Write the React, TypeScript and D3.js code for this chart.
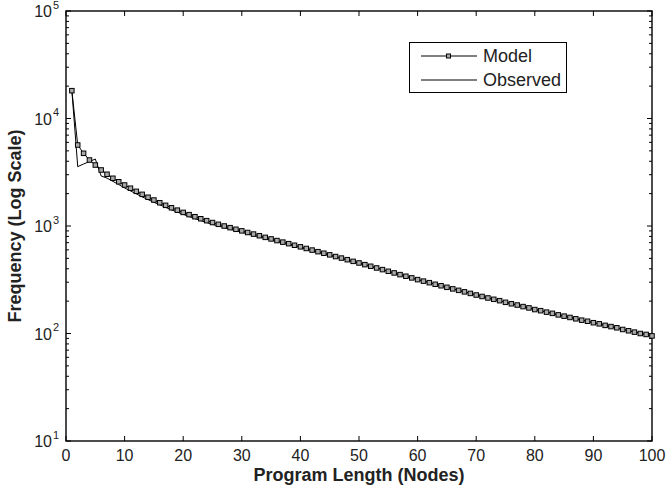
import React, { useEffect, useRef } from "react";
import * as d3 from "d3";

const programLength = d3.range(1, 101);

const modelFreq = [
  18150, 5670, 4745, 4110, 3690, 3320, 3030, 2780, 2580, 2407,
  2246, 2101, 1970, 1851, 1744, 1646, 1557, 1477, 1404, 1338,
  1276, 1220, 1168, 1121, 1077, 1037, 1000, 965, 932, 901,
  870, 841, 812, 784, 758, 732, 708, 685, 662, 640,
  618, 597, 577, 558, 539, 520, 503, 486, 469, 453,
  437, 422, 407, 393, 379, 366, 353, 341, 329, 317,
  307, 297, 287, 278, 269, 260, 252, 244, 236, 228,
  221, 214, 208, 202, 195, 189, 184, 178, 173, 167,
  163, 158, 154, 149, 145, 141, 137, 133, 130, 126,
  123, 119, 116, 113, 109, 106, 103, 100, 98, 95,
];

const observedFreq = [
  18150, 3565, 3775, 3970, 4200, 2920, 2790, 2600, 2430, 2260,
  2120, 1990, 1865, 1760, 1660, 1575, 1490, 1415, 1345, 1285,
  1225, 1172, 1122, 1078, 1036, 1000, 966, 933, 904, 874,
  846, 817, 791, 765, 741, 716, 694, 671, 651, 629,
  610, 590, 569, 551, 533, 514, 498, 481, 465, 449,
  434, 420, 405, 392, 378, 365, 352, 341, 328, 318,
  307, 297, 288, 278, 270, 260, 252, 244, 236, 228,
  222, 214, 208, 201, 196, 189, 184, 178, 173, 167,
  163, 158, 154, 149, 146, 141, 138, 133, 130, 126,
  123, 119, 116, 112, 110, 106, 104, 100, 98, 95,
];

const xTicks = [0, 10, 20, 30, 40, 50, 60, 70, 80, 90, 100];
const yDecades = [10, 100, 1000, 10000, 100000];
const seriesNames = ["Model", "Observed"];

const W = 668;
const H = 489;
const FONT = "'Liberation Sans', Arial, Helvetica, sans-serif";

export default function App() {
  const svgRef = useRef<SVGSVGElement>(null);

  useEffect(() => {
    const svg = d3.select(svgRef.current);
    svg.selectAll("*").remove();

    const left = 66, right = 652, top = 11, bottom = 441;
    const x = d3.scaleLinear().domain([0, 100]).range([left, right]);
    const y = d3.scaleLog().domain([10, 100000]).range([bottom, top]);

    svg.append("rect").attr("width", W).attr("height", H).attr("fill", "#fff");

    // box
    svg
      .append("rect")
      .attr("x", left)
      .attr("y", top)
      .attr("width", right - left)
      .attr("height", bottom - top)
      .attr("fill", "none")
      .attr("stroke", "#000")
      .attr("stroke-width", 1.4);

    // x ticks, bottom and top, pointing inward
    const g = svg.append("g").attr("stroke", "#000").attr("stroke-width", 1);
    xTicks.forEach((t) => {
      g.append("line").attr("x1", x(t)).attr("x2", x(t)).attr("y1", bottom).attr("y2", bottom - 5);
      g.append("line").attr("x1", x(t)).attr("x2", x(t)).attr("y1", top).attr("y2", top + 5);
    });

    // y ticks (log minor + major) on both sides
    y.ticks().forEach((t) => {
      const major = yDecades.includes(t);
      const len = major ? 5 : 3;
      g.append("line").attr("x1", left).attr("x2", left + len).attr("y1", y(t)).attr("y2", y(t));
      g.append("line").attr("x1", right).attr("x2", right - len).attr("y1", y(t)).attr("y2", y(t));
    });

    // tick labels
    svg
      .append("g")
      .selectAll("text")
      .data(xTicks)
      .join("text")
      .attr("x", (d) => x(d))
      .attr("y", bottom + 20)
      .attr("text-anchor", "middle")
      .attr("font-family", FONT)
      .attr("font-size", 16)
      .attr("fill", "#222")
      .text((d) => d);

    const yl = svg.append("g").attr("font-family", FONT).attr("fill", "#222");
    yDecades.forEach((d) => {
      const exp = Math.round(Math.log10(d));
      yl.append("text")
        .attr("x", left - 14)
        .attr("y", y(d) + 6)
        .attr("text-anchor", "end")
        .attr("font-size", 16)
        .text("10");
      yl.append("text")
        .attr("x", left - 13)
        .attr("y", y(d) - 2.5)
        .attr("font-size", 11)
        .text(exp);
    });

    // axis titles
    svg
      .append("text")
      .attr("x", (left + right) / 2)
      .attr("y", bottom + 40)
      .attr("text-anchor", "middle")
      .attr("font-family", FONT)
      .attr("font-weight", "bold")
      .attr("font-size", 18)
      .attr("fill", "#222")
      .text("Program Length (Nodes)");

    svg
      .append("text")
      .attr("transform", `translate(21,${(top + bottom) / 2}) rotate(-90)`)
      .attr("text-anchor", "middle")
      .attr("font-family", FONT)
      .attr("font-weight", "bold")
      .attr("font-size", 18)
      .attr("fill", "#222")
      .text("Frequency (Log Scale)");

    const line = d3
      .line<number>()
      .x((_, i) => x(programLength[i]))
      .y((v) => y(v));

    // observed
    svg
      .append("path")
      .datum(observedFreq)
      .attr("d", line)
      .attr("fill", "none")
      .attr("stroke", "#000")
      .attr("stroke-width", 1);

    // model with square markers
    svg
      .append("path")
      .datum(modelFreq)
      .attr("d", line)
      .attr("fill", "none")
      .attr("stroke", "#000")
      .attr("stroke-width", 1);

    svg
      .append("g")
      .selectAll("rect")
      .data(modelFreq)
      .join("rect")
      .attr("x", (_, i) => x(programLength[i]) - 2.25)
      .attr("y", (v) => y(v) - 2.25)
      .attr("width", 4.5)
      .attr("height", 4.5)
      .attr("fill", "#aaa")
      .attr("stroke", "#000")
      .attr("stroke-width", 1);

    // legend
    const lg = svg.append("g");
    lg.append("rect")
      .attr("x", 409.5)
      .attr("y", 42.5)
      .attr("width", 157)
      .attr("height", 50)
      .attr("fill", "#fff")
      .attr("stroke", "#000")
      .attr("stroke-width", 1);
    seriesNames.forEach((name, i) => {
      const ly = 56 + i * 24;
      lg.append("line")
        .attr("x1", 421)
        .attr("x2", 477)
        .attr("y1", ly)
        .attr("y2", ly)
        .attr("stroke", "#000")
        .attr("stroke-width", 1);
      if (i === 0) {
        lg.append("rect")
          .attr("x", 446.5)
          .attr("y", ly - 2)
          .attr("width", 4)
          .attr("height", 4)
          .attr("fill", "#aaa")
          .attr("stroke", "#000");
      }
      lg.append("text")
        .attr("x", 483)
        .attr("y", ly + 6)
        .attr("font-family", FONT)
        .attr("font-size", 18)
        .attr("fill", "#222")
        .text(name);
    });
  }, []);

  return (
    <svg
      ref={svgRef}
      width={W}
      height={H}
      style={{ position: "absolute", left: 0, top: 0 }}
    />
  );
}
